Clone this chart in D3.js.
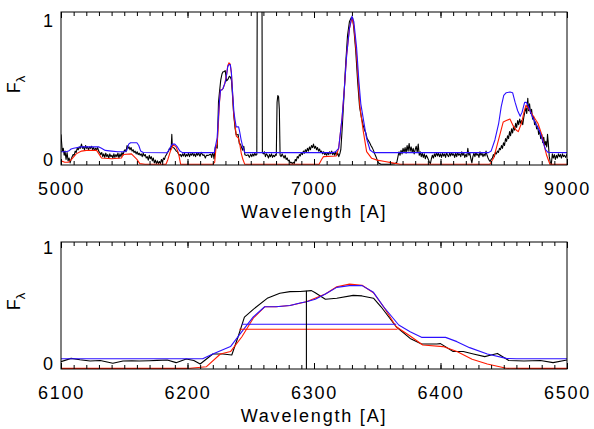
<!DOCTYPE html>
<html>
<head>
<meta charset="utf-8">
<script src="https://cdn.jsdelivr.net/npm/d3@7"></script>
<style>
  body { margin: 0; background: #fff; }
  svg { display: block; }
  text { font-family: "Liberation Sans", Arial, sans-serif; fill: #000; }
</style>
</head>
<body>
<div id="chart"></div>
<script>
/// DATA (wavelength [A], F_lambda)
// observed spectrum, 5000-6100
var blackBlue = [
  [5000,0.22],[5005,0.16],[5010,0.10],[5018,0.12],[5025,0.07],[5032,0.10],[5040,0.04],[5048,0.09],
  [5056,0.03],[5064,0.05],[5072,0.015],[5080,0.04],[5088,0.06],[5096,0.075],[5104,0.07],[5112,0.10],
  [5120,0.09],[5128,0.12],[5136,0.11],[5144,0.13],[5152,0.12],[5162,0.15],[5170,0.12],[5178,0.13],
  [5186,0.11],[5194,0.14],[5202,0.12],[5210,0.13],[5218,0.11],[5226,0.13],[5234,0.12],[5242,0.135],
  [5250,0.11],[5258,0.125],[5266,0.105],[5274,0.12],[5282,0.11],[5290,0.125],[5298,0.10],[5306,0.09],
  [5314,0.075],[5322,0.09],[5330,0.06],[5338,0.08],[5346,0.055],[5354,0.085],[5362,0.06],[5370,0.075],
  [5378,0.05],[5386,0.08],[5394,0.06],[5402,0.07],[5410,0.05],[5418,0.08],[5426,0.055],[5434,0.075],
  [5442,0.06],[5450,0.085],[5458,0.05],[5466,0.08],[5474,0.06],[5482,0.09],[5490,0.07],[5498,0.10],
  [5506,0.11],[5514,0.095],[5522,0.14],[5530,0.12],[5538,0.13],[5546,0.11],[5554,0.125],[5562,0.10],
  [5570,0.11],[5578,0.09],[5586,0.10],[5594,0.08],[5602,0.095],[5610,0.075],[5618,0.085],[5626,0.07],
  [5634,0.08],[5642,0.06],[5650,0.085],[5658,0.065],[5666,0.075],[5674,0.05],[5682,0.06],[5690,0.035],
  [5698,0.07],[5706,0.045],[5714,0.06],[5722,0.03],[5730,0.05],[5738,0.015],[5746,0.035],[5754,0.01],
  [5762,0.03],[5770,0.01],[5778,0.025],[5786,0.01],[5794,0.04],[5802,0.02],[5810,0.05],[5818,0.04],
  [5826,0.065],[5834,0.075],[5842,0.09],[5850,0.10],[5858,0.12],[5866,0.11],[5872,0.14],[5876,0.22],
  [5880,0.13],[5888,0.125],[5896,0.12],[5904,0.11],[5912,0.10],[5920,0.095],[5928,0.08],[5936,0.07],
  [5944,0.075],[5952,0.06],[5960,0.08],[5968,0.065],[5976,0.085],[5984,0.06],[5992,0.075],[6000,0.065],
  [6008,0.085],[6016,0.06],[6024,0.08],[6032,0.07],[6040,0.09],[6048,0.065],[6056,0.08],[6064,0.06],
  [6072,0.085],[6080,0.07],[6088,0.09],[6096,0.065]
];
// observed spectrum, 6100-6500 (zoom window)
var blackZoom = [
  [6100,0.064],[6108,0.092],[6115,0.08],[6123,0.069],[6131,0.073],[6141,0.05],[6149,0.069],[6156,0.07],
  [6162,0.069],[6170,0.072],[6176,0.075],[6184,0.078],[6191,0.055],[6199,0.087],[6205,0.073],[6210,0.043],
  [6220,0.13],[6228,0.13],[6235,0.121],[6240,0.279],[6245,0.45],[6252,0.517],[6263,0.612],[6273,0.656],
  [6281,0.67],[6289,0.671],[6298,0.679],[6301,0.66],[6309,0.604],[6318,0.613],[6331,0.638],[6338,0.633],
  [6347,0.613],[6353,0.539],[6365,0.366],[6376,0.265],[6385,0.217],[6397,0.217],[6400,0.22],[6410,0.151],
  [6418,0.151],[6426,0.13],[6435,0.107],[6440,0.121],[6445,0.135],[6454,0.073],[6466,0.069],[6479,0.073],
  [6489,0.055],[6500,0.078]
];
// observed spectrum, 6500-9000
var blackRed = [
  [6508,0.06],[6516,0.08],[6524,0.065],[6532,0.085],[6540,0.07],[6548,0.075],[6552,1.5],[6588,1.5],
  [6592,0.09],[6600,0.08],[6608,0.095],[6616,0.06],[6624,0.08],[6632,0.07],[6640,0.05],[6648,0.075],
  [6656,0.06],[6664,0.08],[6672,0.055],[6680,0.07],[6688,0.06],[6696,0.075],[6702,0.07],[6708,0.45],
  [6714,0.50],[6720,0.49],[6726,0.40],[6732,0.07],[6740,0.06],[6748,0.08],[6756,0.065],[6764,0.05],
  [6772,0.07],[6780,0.04],[6788,0.05],[6796,0.03],[6804,0.035],[6812,0.015],[6820,0.02],[6828,0.01],
  [6836,0.02],[6844,0.01],[6852,0.04],[6860,0.03],[6868,0.06],[6876,0.05],[6884,0.075],[6892,0.065],
  [6900,0.09],[6908,0.075],[6916,0.10],[6924,0.085],[6932,0.11],[6940,0.095],[6948,0.12],[6956,0.10],
  [6964,0.13],[6972,0.11],[6980,0.14],[6988,0.125],[6996,0.15],[7004,0.12],[7012,0.135],[7020,0.11],
  [7028,0.125],[7036,0.10],[7044,0.115],[7052,0.09],[7060,0.10],[7068,0.08],[7076,0.095],[7084,0.075],
  [7092,0.085],[7100,0.07],[7108,0.09],[7116,0.075],[7124,0.095],[7132,0.08],[7140,0.10],[7148,0.075],
  [7156,0.09],[7164,0.07],[7172,0.095],[7180,0.07],[7188,0.085],[7196,0.06],[7204,0.08],[7212,0.11],
  [7222,0.25],[7236,0.48],[7250,0.72],[7265,0.93],[7280,1.03],[7295,1.06],[7305,1.06],[7315,0.98],
  [7330,0.82],[7345,0.6],[7360,0.42],[7375,0.34],[7390,0.28],[7400,0.25],[7410,0.23],[7420,0.19],
  [7430,0.175],[7440,0.16],[7450,0.14],[7460,0.125],[7470,0.105],[7480,0.08],[7490,0.06],[7500,0.035],
  [7510,0.015],[7530,0.005],[7600,0.005],[7640,0.01],[7655,0.02],[7665,0.065],[7672,0.095],[7680,0.07],
  [7688,0.105],[7696,0.08],[7704,0.12],[7712,0.09],[7720,0.125],[7728,0.085],[7736,0.14],[7744,0.10],
  [7752,0.155],[7760,0.10],[7768,0.13],[7776,0.09],[7784,0.12],[7792,0.08],[7800,0.11],[7808,0.135],
  [7816,0.09],[7824,0.15],[7832,0.07],[7840,0.095],[7848,0.06],[7856,0.085],[7864,0.055],[7872,0.08],
  [7880,0.045],[7888,0.07],[7896,0.055],[7904,0.04],[7912,0.02],[7920,0.01],[7928,0.045],[7936,0.07],
  [7944,0.05],[7952,0.08],[7960,0.06],[7968,0.09],[7976,0.065],[7984,0.085],[7992,0.06],[8000,0.08],
  [8008,0.055],[8016,0.085],[8024,0.065],[8032,0.08],[8040,0.055],[8048,0.09],[8056,0.07],[8064,0.06],
  [8072,0.085],[8080,0.065],[8088,0.09],[8096,0.07],[8104,0.08],[8112,0.055],[8120,0.085],[8128,0.06],
  [8136,0.09],[8144,0.07],[8152,0.08],[8160,0.06],[8168,0.095],[8176,0.07],[8184,0.085],[8192,0.055],
  [8200,0.075],[8208,0.06],[8216,0.12],[8224,0.07],[8232,0.085],[8240,0.045],[8248,0.015],[8256,0.06],
  [8264,0.085],[8272,0.06],[8280,0.09],[8288,0.07],[8296,0.08],[8304,0.055],[8312,0.095],[8320,0.07],
  [8328,0.085],[8336,0.06],[8344,0.08],[8352,0.065],[8360,0.10],[8368,0.07],[8376,0.05],[8384,0.035],
  [8392,0.025],[8400,0.04],[8410,0.05],[8418,0.075],[8426,0.06],[8434,0.09],[8442,0.08],[8450,0.10],
  [8458,0.09],[8466,0.12],[8474,0.11],[8482,0.14],[8490,0.12],[8498,0.16],[8506,0.14],[8514,0.19],
  [8522,0.17],[8530,0.21],[8538,0.19],[8546,0.24],[8554,0.21],[8562,0.26],[8570,0.23],[8578,0.28],
  [8586,0.25],[8594,0.30],[8602,0.27],[8610,0.32],[8618,0.29],[8626,0.33],[8634,0.30],[8642,0.32],
  [8650,0.29],[8658,0.34],[8666,0.38],[8674,0.41],[8682,0.37],[8690,0.48],[8696,0.39],[8704,0.44],
  [8712,0.37],[8720,0.40],[8728,0.33],[8736,0.35],[8744,0.29],[8752,0.31],[8760,0.26],[8768,0.28],
  [8776,0.22],[8784,0.25],[8792,0.19],[8800,0.22],[8808,0.16],[8816,0.20],[8824,0.14],[8832,0.17],
  [8840,0.13],[8846,0.22],[8852,0.16],[8860,0.06],[8868,0.02],[8876,0.005],[8884,0.08],[8892,0.05],
  [8900,0.075],[8908,0.04],[8916,0.07],[8924,0.05],[8932,0.08],[8940,0.06],[8948,0.075],[8956,0.05],
  [8964,0.08],[8972,0.06],[8980,0.07],[8990,0.055],[9000,0.08]
];

// blue model
var blueLeft = [
  [5000,0.095],[5040,0.095],[5060,0.10],[5080,0.115],[5100,0.12],[5150,0.13],[5300,0.13],[5320,0.12],
  [5350,0.105],[5400,0.10],[5450,0.095],[5500,0.095],[5520,0.105],[5535,0.15],[5550,0.16],[5600,0.16],
  [5615,0.14],[5630,0.10],[5650,0.09],[5840,0.088],[5860,0.12],[5880,0.15],[5900,0.15],[5920,0.13],
  [5940,0.10],[5960,0.089],[6096,0.089]
];
var blueZoom = [
  [6100,0.089],[6212,0.089],[6220,0.13],[6234,0.194],[6241,0.295],[6252,0.451],[6261,0.539],[6270,0.539],
  [6281,0.55],[6289,0.572],[6294,0.583],[6301,0.604],[6309,0.649],[6318,0.707],[6328,0.722],[6338,0.722],
  [6347,0.664],[6355,0.539],[6367,0.381],[6376,0.323],[6385,0.274],[6404,0.274],[6413,0.237],[6423,0.185],
  [6437,0.13],[6452,0.092],[6460,0.089],[6500,0.089]
];
var blueRight = [
  [7150,0.089],[7170,0.095],[7195,0.12],[7222,0.34],[7240,0.55],[7258,0.79],[7280,0.98],[7300,1.07],
  [7315,1.03],[7337,0.84],[7355,0.60],[7370,0.44],[7390,0.33],[7416,0.19],[7443,0.108],[7470,0.089],
  [8380,0.089],[8400,0.10],[8430,0.18],[8460,0.30],[8480,0.42],[8500,0.50],[8520,0.52],[8550,0.525],
  [8570,0.52],[8590,0.45],[8610,0.39],[8630,0.35],[8645,0.38],[8665,0.45],[8680,0.45],[8700,0.41],
  [8720,0.36],[8750,0.30],[8785,0.24],[8810,0.17],[8830,0.11],[8850,0.09],[9000,0.089]
];

// red model
var redLeft = [
  [5000,0.03],[5030,0.02],[5060,0.02],[5083,0.04],[5120,0.08],[5162,0.10],[5200,0.105],[5281,0.105],
  [5300,0.08],[5320,0.05],[5400,0.045],[5478,0.05],[5492,0.075],[5557,0.08],[5600,0.04],[5623,0.01],
  [5664,0.005],[5830,0.005],[5845,0.04],[5865,0.10],[5888,0.145],[5910,0.13],[5930,0.08],[5946,0.005],
  [6096,0.005]
];
var redZoom = [
  [6100,0.005],[6200,0.005],[6215,0.02],[6226,0.13],[6234,0.151],[6243,0.279],[6252,0.44],[6261,0.539],
  [6270,0.539],[6281,0.55],[6294,0.583],[6309,0.649],[6318,0.713],[6328,0.735],[6338,0.726],[6347,0.66],
  [6355,0.539],[6365,0.366],[6376,0.286],[6386,0.208],[6402,0.194],[6413,0.151],[6425,0.084],[6437,0.043],
  [6452,0.006],[6465,0.005],[6500,0.005]
];
var redRight = [
  [7040,0.005],[7060,0.04],[7075,0.06],[7175,0.065],[7195,0.12],[7222,0.34],[7240,0.55],[7258,0.79],
  [7280,0.98],[7300,1.06],[7315,1.00],[7337,0.78],[7364,0.41],[7390,0.24],[7416,0.096],[7456,0.048],
  [7500,0.035],[7560,0.025],[7620,0.015],[7680,0.005],[8390,0.005],[8420,0.05],[8444,0.13],[8470,0.22],
  [8496,0.31],[8520,0.32],[8549,0.33],[8575,0.28],[8600,0.25],[8615,0.24],[8640,0.30],[8660,0.38],
  [8676,0.43],[8700,0.40],[8734,0.35],[8770,0.30],[8800,0.22],[8820,0.14],[8839,0.07],[8865,0.005],
  [9000,0.005]
];

// marks in the zoom window only
var blueLevel = [[6243,0.387],[6365,0.387]];
var redLevel  = [[6241,0.344],[6366,0.344]];
var markLine  = [[6294,0],[6294,0.678]];

var yTickValues = [0, 1];

/// LAYOUT
var W = 594, H = 429;
var left = 61, right = 567;
var panels = [
  {top: 12,  bottom: 165, xdom: [5000, 9000], major: 1000, minor: 100,
   series: [
     {data: blackBlue.concat(blackZoom, blackRed), color: "#000"},
     {data: redLeft.concat(redZoom, redRight), color: "#ff1a00"},
     {data: blueLeft.concat(blueZoom, blueRight), color: "#2c10ff"}
   ]},
  {top: 242, bottom: 369, xdom: [6100, 6500], major: 100, minor: 10,
   series: [
     {data: blackZoom, color: "#000"},
     {data: redZoom, color: "#ff1a00"},
     {data: blueZoom, color: "#2c10ff"},
     {data: blueLevel, color: "#2c10ff"},
     {data: redLevel, color: "#ff1a00"},
     {data: markLine, color: "#000"}
   ]}
];

var svg = d3.select("#chart").append("svg")
    .attr("width", W).attr("height", H);

panels.forEach(function(p, i) {
  var x = d3.scaleLinear().domain(p.xdom).range([left, right]);
  var y = d3.scaleLinear().domain([0, 1.1]).range([p.bottom, p.top]);
  var majors = d3.range(p.xdom[0], p.xdom[1] + 1, p.major);
  var minors = d3.range(p.xdom[0], p.xdom[1] + 1, p.minor);

  svg.append("clipPath").attr("id", "clip" + i)
    .append("rect")
      .attr("x", left).attr("y", p.top)
      .attr("width", right - left).attr("height", p.bottom - p.top);

  var line = d3.line().x(function(d) { return x(d[0]); }).y(function(d) { return y(d[1]); });

  var g = svg.append("g").attr("clip-path", "url(#clip" + i + ")");
  p.series.forEach(function(s) {
    g.append("path")
      .attr("d", line(s.data))
      .attr("fill", "none")
      .attr("stroke", s.color)
      .attr("stroke-width", 1.1)
      .attr("stroke-linejoin", "round");
  });

  // ticks, pointing inward on bottom and top edges
  function ticks(axis, ypos, size, values, labels) {
    var a = svg.append("g")
      .attr("transform", "translate(0," + ypos + ")")
      .call(axis(x).tickValues(values).tickSizeInner(size).tickSizeOuter(0)
            .tickPadding(17).tickFormat(labels ? d3.format("d") : ""));
    a.select(".domain").remove();
    a.selectAll("line").attr("stroke", "#000");
    a.selectAll("text").attr("font-size", 18).attr("letter-spacing", 1.8)
      .attr("font-family", null).attr("fill", "#000");
    return a;
  }
  ticks(d3.axisBottom, p.bottom, -4, minors, false);
  ticks(d3.axisBottom, p.bottom, -6, majors, true);
  ticks(d3.axisTop, p.top, -4, minors, false);
  ticks(d3.axisTop, p.top, -6, majors, false);

  var ya = svg.append("g")
    .attr("transform", "translate(" + left + ",0)")
    .call(d3.axisLeft(y).tickValues(yTickValues).tickSize(0).tickPadding(8).tickFormat(d3.format("d")));
  ya.select(".domain").remove();
  ya.selectAll("text").attr("font-size", 18).attr("dy", "0.02em")
    .attr("font-family", null).attr("fill", "#000");

  svg.append("rect")
    .attr("x", left).attr("y", p.top)
    .attr("width", right - left).attr("height", p.bottom - p.top)
    .attr("fill", "none").attr("stroke", "#000").attr("stroke-width", 1);

  svg.append("text")
    .attr("x", (left + right) / 2).attr("y", p.bottom + 53)
    .attr("text-anchor", "middle")
    .attr("font-size", 18).attr("letter-spacing", 1.8)
    .text("Wavelength [A]");

  var fl = svg.append("text")
    .attr("transform", "translate(20," + ((p.top + p.bottom) / 2 - 4) + ") rotate(-90)")
    .attr("text-anchor", "middle")
    .attr("font-size", 18);
  fl.append("tspan").text("F");
  fl.append("tspan").attr("font-size", 13).attr("dy", 5).text("λ");
});
</script>
</body>
</html>
